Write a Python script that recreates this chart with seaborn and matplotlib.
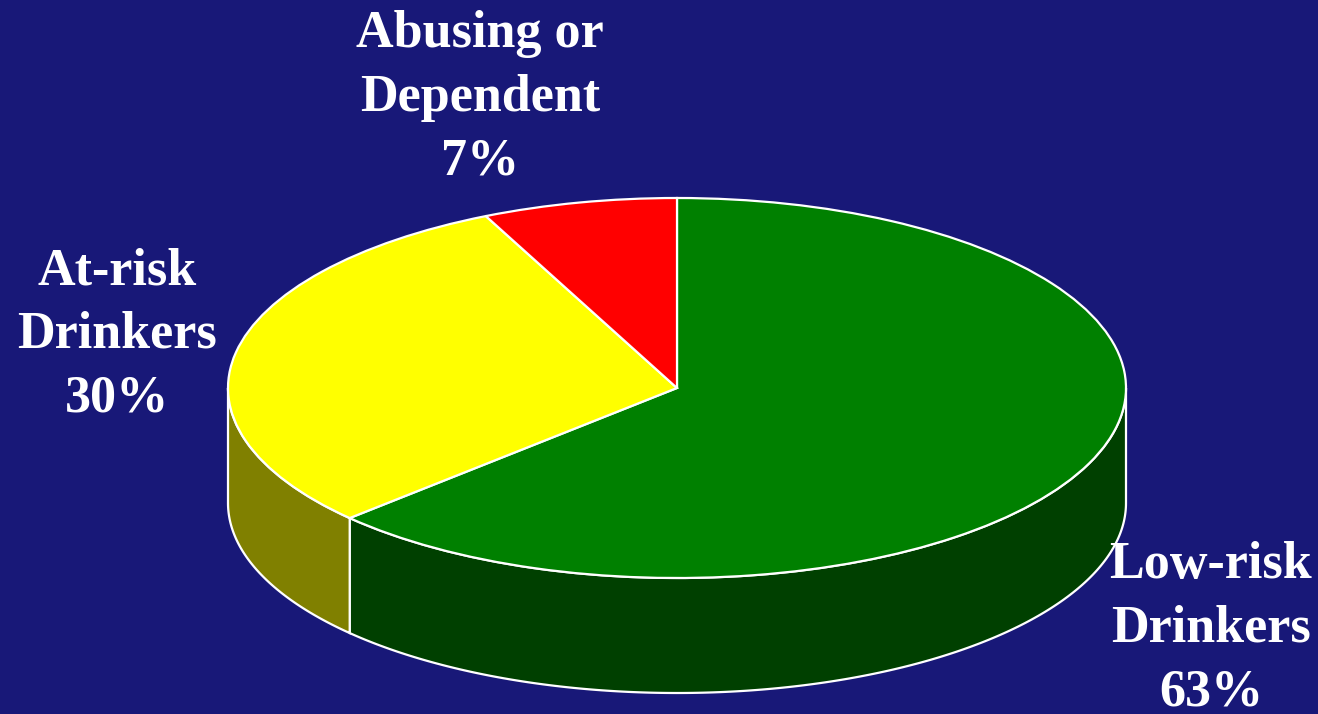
import numpy as np
import matplotlib
matplotlib.use("Agg")
import matplotlib.pyplot as plt
import seaborn as sns

labels = ["Low-risk\nDrinkers\n63%", "At-risk\nDrinkers\n30%", "Abusing or\nDependent\n7%"]
values = [63, 30, 7]
top_colors = ["#008000", "#FFFF00", "#FF0000"]
wall_colors = ["#004000", "#808000", "#800000"]
BG = "#181878"

sns.set_theme(style="white")
W, H = 1318, 714
cx, cy, rx, ry, depth = 677, 388, 449, 190, 115

fig = plt.figure(figsize=(W / 100, H / 100), dpi=100, facecolor=BG)
ax = fig.add_axes([0, 0, 1, 1])
ax.set_facecolor(BG)

ax.pie(values, colors=top_colors, startangle=90, counterclock=False, radius=1,
       wedgeprops=dict(edgecolor="white", linewidth=1.6, zorder=3))
ax.set_aspect("auto")
ax.set_xlim(-cx / rx, (W - cx) / rx)
ax.set_ylim(-(H - cy) / ry, cy / ry)
ax.axis("off")

d = depth / ry
edges = 90 - np.cumsum([0] + values) * 3.6
for i, col in enumerate(wall_colors):
    # only the front half of the rim (-180..0 degrees) is visible
    hi_v = min(edges[i], 0)
    lo_v = max(edges[i + 1], -180)
    if hi_v <= lo_v:
        continue
    t = np.radians(np.linspace(lo_v, hi_v, 200))
    x = np.cos(t)
    y = np.sin(t)
    ax.fill(np.r_[x, x[::-1]], np.r_[y, y[::-1] - d], facecolor=col,
            edgecolor="white", linewidth=1.6, zorder=2)

family = ["Liberation Serif", "DejaVu Serif"]
positions = [(1211, 629), (117, 335), (480, 98)]
for lab, (px, py) in zip(labels, positions):
    fig.text(px / W, 1 - py / H, lab, color="white", fontsize=37.5, fontweight="bold",
             family=family, ha="center", va="center", linespacing=1.42)

fig.savefig("out.png", dpi=100, facecolor=BG)
